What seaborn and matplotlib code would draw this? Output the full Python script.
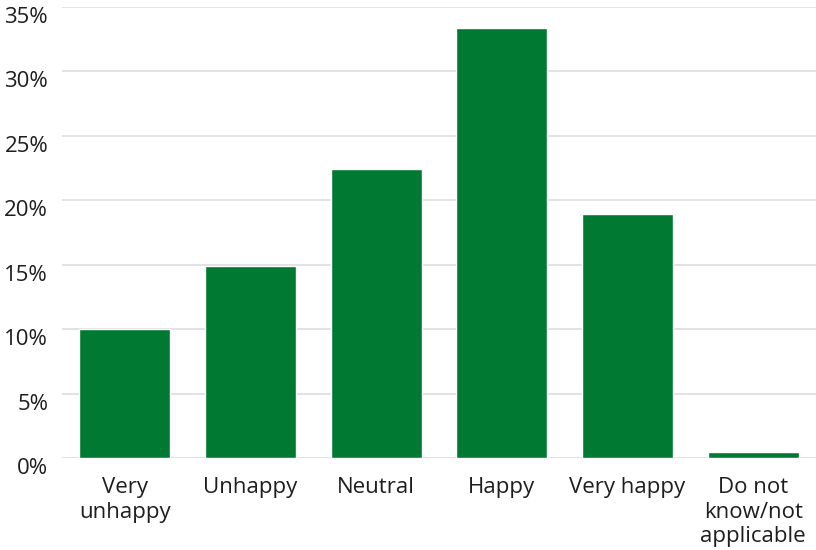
import matplotlib
matplotlib.use("Agg")
import matplotlib.pyplot as plt
from matplotlib.ticker import FuncFormatter, MultipleLocator
import seaborn as sns
import pandas as pd

# Share of respondents by happiness rating (%)
categories = ["Very\nunhappy", "Unhappy", "Neutral", "Happy", "Very happy",
              "Do not\nknow/not\napplicable"]
shares = [10.0, 14.9, 22.4, 33.4, 18.9, 0.5]

df = pd.DataFrame({"category": categories, "share": shares})

sns.set_theme(style="white")
plt.rcParams["font.family"] = ["Open Sans", "DejaVu Sans"]

fig = plt.figure(figsize=(8.16, 5.5), dpi=100)
ax = fig.add_axes([0.076, 0.1673, 0.924, 0.82])

sns.barplot(data=df, x="category", y="share", color="#007A33",
            saturation=1, width=0.725, ax=ax)

ax.set_xlim(-0.5, 5.5)
ax.set_ylim(0, 35)
ax.yaxis.set_major_locator(MultipleLocator(5))
ax.yaxis.set_major_formatter(FuncFormatter(lambda v, _: f"{v:.0f}%"))
ax.grid(axis="y", color="#dcdce2", linewidth=1.2)
ax.set_axisbelow(True)
for s in ax.spines.values():
    s.set_visible(False)
ax.tick_params(axis="both", length=0, labelsize=16, colors="#1e1e1e")
ax.tick_params(axis="y", pad=10)
ax.tick_params(axis="x", pad=14)
# y labels sit just below their gridline
for lbl in ax.get_yticklabels():
    lbl.set_verticalalignment("top")
for lbl in ax.get_xticklabels():
    lbl.set_linespacing(1.22)
ax.set_xlabel("")
ax.set_ylabel("")

fig.savefig("out.png", dpi=100)
